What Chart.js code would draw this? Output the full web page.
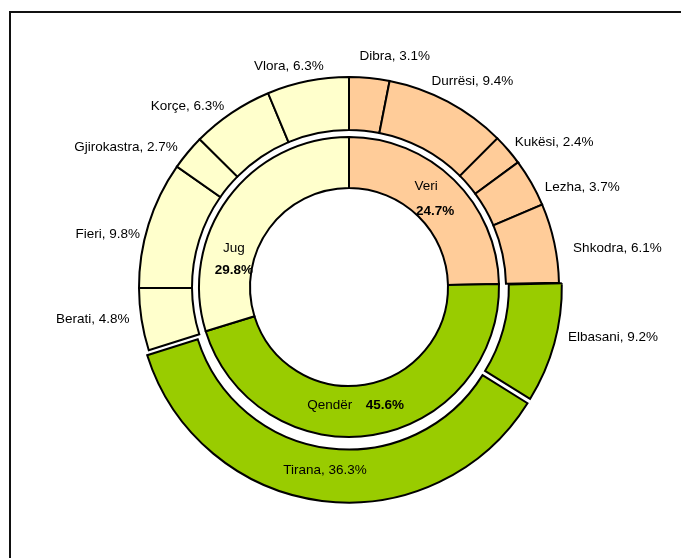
<!DOCTYPE html>
<html>
<head>
<meta charset="utf-8">
<script src="https://cdn.jsdelivr.net/npm/chart.js@4.4.1/dist/chart.umd.min.js"></script>
<style>
  html, body { margin: 0; padding: 0; background: #fff; }
  #wrap { position: relative; width: 681px; height: 558px; overflow: hidden; }
  #frame { position: absolute; left: 9px; top: 11px; width: 700px; height: 600px;
           border-top: 2px solid #111; border-left: 2px solid #111; pointer-events: none; }
  canvas { position: absolute; left: 0; top: 0; }
</style>
</head>
<body>
<div id="wrap">
  <canvas id="chart" width="681" height="558"></canvas>
  <div id="frame"></div>
</div>
<script>
// inner ring: zones
const zones = ['Veri', 'Qendër', 'Jug'];
const zoneShares = [24.7, 45.6, 29.8];

// outer ring: districts, clockwise from 12 o'clock
const districts = ['Dibra', 'Durrësi', 'Kukësi', 'Lezha', 'Shkodra', 'Elbasani',
  'Tirana', 'Berati', 'Fieri', 'Gjirokastra', 'Korçe', 'Vlora'];
const districtShares = [3.1, 9.4, 2.4, 3.7, 6.1, 9.2, 36.3, 4.8, 9.8, 2.7, 6.3, 6.3];
const districtZone = [0, 0, 0, 0, 0, 1, 1, 2, 2, 2, 2, 2];
// pulled-out slices (chart.js moves an arc by offset / 4 px)
const explodeOffset = { Elbasani: 8, Tirana: 18 };

const zoneColors = ['#FFCC99', '#99CC00', '#FFFFCC'];

// label placement, relative to the middle of each arc
const districtNudge = [[28, -48], [37, -44], [66, -25], [74, -9], [89, 0], [87, 2],
  [-1, 1], [-75, 4], [-66, 2], [-82, -22], [-59, -29], [-24, -41]];
const zoneNameNudge = [[-10, -12], [-39, -5], [-15, 35]];
const zoneValueNudge = [[-1, 13], [16, -5], [-15, 57]];

const FONT = '"Liberation Sans", Arial, sans-serif';

function arcMid(arc) {
  const a = (arc.startAngle + arc.endAngle) / 2;
  const r = (arc.innerRadius + arc.outerRadius) / 2;
  return { x: arc.x + Math.cos(a) * r, y: arc.y + Math.sin(a) * r };
}

const labelPlugin = {
  id: 'ringLabels',
  afterDatasetsDraw(chart) {
    const ctx = chart.ctx;
    ctx.save();
    ctx.fillStyle = '#000';
    ctx.textAlign = 'center';
    ctx.textBaseline = 'middle';

    ctx.font = '13.5px ' + FONT;
    chart.getDatasetMeta(0).data.forEach((arc, i) => {
      const p = arcMid(arc);
      ctx.fillText(districts[i] + ', ' + districtShares[i].toFixed(1) + '%',
        p.x + districtNudge[i][0], p.y + districtNudge[i][1]);
    });

    chart.getDatasetMeta(2).data.forEach((arc, i) => {
      const p = arcMid(arc);
      ctx.font = '13.5px ' + FONT;
      ctx.fillText(zones[i], p.x + zoneNameNudge[i][0], p.y + zoneNameNudge[i][1]);
      ctx.font = 'bold 13.5px ' + FONT;
      ctx.fillText(zoneShares[i].toFixed(1) + '%', p.x + zoneValueNudge[i][0], p.y + zoneValueNudge[i][1]);
    });
    ctx.restore();
  }
};

new Chart(document.getElementById('chart').getContext('2d'), {
  type: 'doughnut',
  data: {
    labels: districts,
    datasets: [{
      data: districtShares,
      backgroundColor: districtZone.map(z => zoneColors[z]),
      borderColor: '#000',
      borderWidth: 2,
      borderJoinStyle: 'miter',
      offset: districts.map(d => explodeOffset[d] || 0),
      weight: 53
    }, {
      // white gap between the two rings
      data: [1],
      backgroundColor: 'rgba(0,0,0,0)',
      borderWidth: 0,
      weight: 7
    }, {
      data: zoneShares,
      backgroundColor: zoneColors,
      borderColor: '#000',
      borderWidth: 2,
      borderJoinStyle: 'miter',
      weight: 51
    }]
  },
  options: {
    responsive: false,
    animation: false,
    events: [],
    radius: 210,
    cutout: '47.14%',
    layout: { padding: { left: 17, top: 16, right: 0, bottom: 0 } },
    plugins: { legend: { display: false }, tooltip: { enabled: false } }
  },
  plugins: [labelPlugin]
});
</script>
</body>
</html>
